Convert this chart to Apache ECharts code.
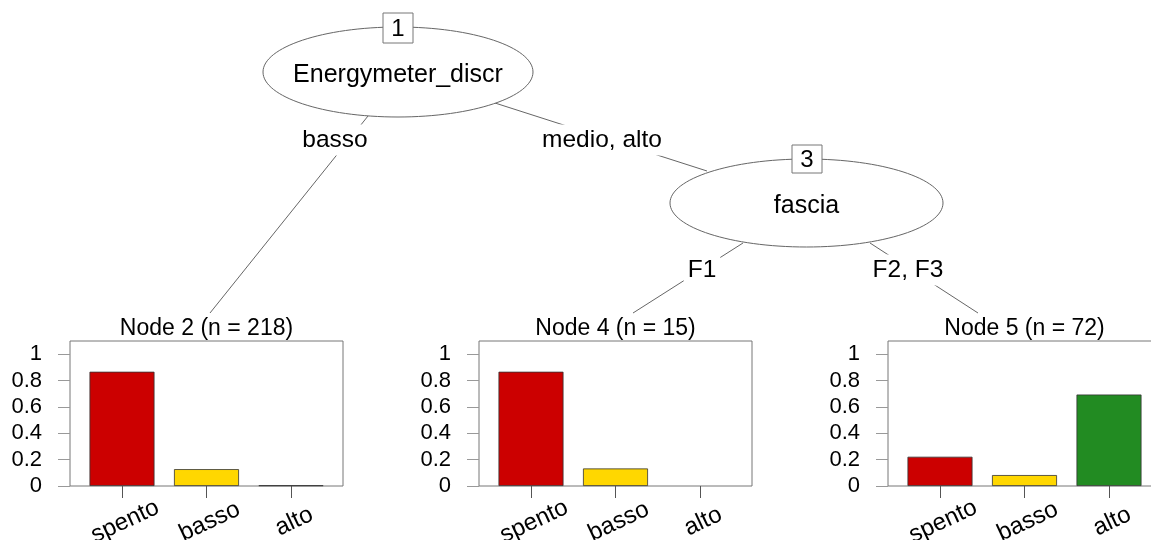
<!DOCTYPE html>
<html>
<head>
<meta charset="utf-8">
<script src="https://cdn.jsdelivr.net/npm/echarts@6/dist/echarts.min.js"></script>
<style>
  html, body { margin: 0; padding: 0; background: #fff; }
  #chart { width: 1151px; height: 540px; }
</style>
</head>
<body>
<div id="chart"></div>
<script>
// ---- data ----
const classes = ['spento', 'basso', 'alto'];
const leafIds = [2, 4, 5];
const leafSizes = [218, 15, 72];
const node2Share = [0.867, 0.128, 0.005];
const node4Share = [0.867, 0.133, 0];
const node5Share = [0.222, 0.083, 0.694];
const yTicks = [0, 0.2, 0.4, 0.6, 0.8, 1];
const innerIds = [1, 3];
const innerVars = ['Energymeter_discr', 'fascia'];
const edgeLabels = ['basso', 'medio, alto', 'F1', 'F2, F3'];

// ---- styling / layout ----
const classColors = ['#CC0000', '#FFD700', '#228B22'];
const FONT = '"Liberation Sans", Arial, Helvetica, sans-serif';
const FS = 23;
const frameLefts = [70, 479, 888];
const frameTop = 341, frameW = 273, frameH = 145;
const inset = 9.75;               // data area sits inside the frame
const leafShares = [node2Share, node4Share, node5Share];

// inner nodes: ellipse centre / radii and id box
const innerLayout = [
  { cx: 398, cy: 72, rx: 135, ry: 45, box: [383, 13, 30, 30] },
  { cx: 806.5, cy: 203, rx: 136.5, ry: 44, box: [792, 145, 30, 28] }
];
// edges: segment ends and label anchor
const edgeLayout = [
  { p: [368, 116, 210, 313], l: [335, 140] },
  { p: [495, 103, 707, 171], l: [602, 140] },
  { p: [743, 243, 633, 313], l: [702, 270] },
  { p: [870, 243, 978, 313], l: [908, 270] }
];
const leafCenters = frameLefts.map(l => l + frameW / 2);

const grids = [], xAxes = [], yAxes = [], series = [];
frameLefts.forEach((left) => {
  grids.push({
    left: left, top: frameTop, width: frameW, height: frameH,
    show: true, borderColor: '#777', borderWidth: 1,
    backgroundColor: 'transparent', outerBoundsMode: 'none'
  });
});
frameLefts.forEach((left, i) => {
  grids.push({
    left: left + inset, top: frameTop, width: frameW - 2 * inset, height: frameH,
    show: false, outerBoundsMode: 'none'
  });
  xAxes.push({
    type: 'category', gridIndex: 3 + i, data: classes,
    axisLine: { show: false },
    axisTick: { show: true, alignWithLabel: true, length: 12, lineStyle: { color: '#555', width: 1 } },
    axisLabel: {
      rotate: 25, align: 'center', verticalAlign: 'middle', margin: 37,
      padding: [0, 0, 0, 7],
      fontSize: 24, fontFamily: FONT, color: '#000'
    },
    splitLine: { show: false }
  });
  yAxes.push({
    type: 'value', gridIndex: 3 + i, min: 0, max: 1.1, offset: inset,
    axisLine: { show: false },
    axisTick: { show: true, length: 12, customValues: yTicks, lineStyle: { color: '#999', width: 1 } },
    axisLabel: {
      customValues: yTicks, margin: 28, fontSize: 22, fontFamily: FONT, color: '#000',
      formatter: v => String(v)
    },
    splitLine: { show: false }
  });
  series.push({
    type: 'bar', xAxisIndex: i, yAxisIndex: i, barWidth: 65,
    data: leafShares[i].map((v, j) => ({
      value: v,
      itemStyle: { color: classColors[j], borderColor: '#333', borderWidth: v > 0 ? 0.8 : 0 }
    })),
    emphasis: { disabled: true },
    animation: false
  });
});

// ---- tree drawing ----
const graphic = [];
const txt = (x, y, s, extra) => ({
  type: 'text', x: x, y: y, z: 10,
  style: Object.assign({
    text: s, fill: '#000', fontSize: FS, fontFamily: FONT,
    align: 'center', verticalAlign: 'middle'
  }, extra || {})
});
edgeLayout.forEach(e => {
  graphic.push({
    type: 'line', z: 1,
    shape: { x1: e.p[0], y1: e.p[1], x2: e.p[2], y2: e.p[3] },
    style: { stroke: '#666', lineWidth: 1 }
  });
});
innerLayout.forEach((n, k) => {
  graphic.push({
    type: 'ellipse', z: 3,
    shape: { cx: n.cx, cy: n.cy, rx: n.rx, ry: n.ry },
    style: { fill: '#fff', stroke: '#666', lineWidth: 1 }
  });
  graphic.push(txt(n.cx, n.cy + 3, innerVars[k], { fontSize: 25 }));
  graphic.push({
    type: 'rect', z: 5,
    shape: { x: n.box[0], y: n.box[1], width: n.box[2], height: n.box[3] },
    style: { fill: '#fff', stroke: '#777', lineWidth: 1 }
  });
  graphic.push(txt(n.box[0] + n.box[2] / 2, n.box[1] + n.box[3] / 2 + 1, String(innerIds[k]), { fontSize: 24 }));
});
edgeLayout.forEach((e, k) => {
  graphic.push(txt(e.l[0], e.l[1], edgeLabels[k], { fontSize: 24.5, backgroundColor: '#fff', padding: [3, 4] }));
});
leafIds.forEach((id, i) => {
  graphic.push(txt(leafCenters[i], 329, 'Node ' + id + ' (n = ' + leafSizes[i] + ')'));
});

const chart = echarts.init(document.getElementById('chart'), null, { renderer: 'canvas' });
chart.setOption({
  animation: false,
  backgroundColor: '#fff',
  grid: grids,
  xAxis: xAxes,
  yAxis: yAxes,
  series: series,
  graphic: graphic
});
</script>
</body>
</html>
